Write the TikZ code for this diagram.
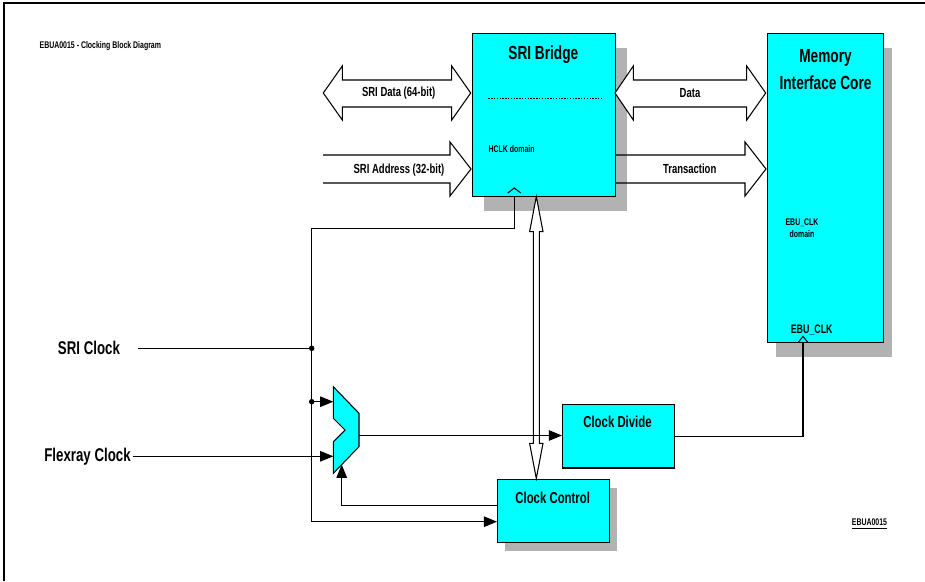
\documentclass[tikz,border=0pt]{standalone}
\usepackage{fontspec}
\setmainfont[FakeStretch=0.72]{Liberation Sans}
\usepackage{tikz}
\usetikzlibrary{arrows.meta, positioning, calc, shadows}
\definecolor{blkcyan}{RGB}{0,255,255}
\definecolor{blkshadow}{RGB}{178,178,178}
\tikzset{
  block/.style      = {rectangle, draw=black, line width=0.8pt, fill=blkcyan,
                       anchor=north west, inner sep=0pt},
  dshadow/.style 2 args = {drop shadow={shadow xshift=#1, shadow yshift=#2,
                       fill=blkshadow, opacity=1}},
  headtext/.style   = {font=\bfseries\fontsize{10.8}{15.6}\selectfont, align=center, inner sep=1pt},
  clktext/.style    = {font=\bfseries\fontsize{10.5}{12}\selectfont, inner sep=1pt},
  boxtext/.style    = {font=\bfseries\fontsize{9}{11}\selectfont, inner sep=1pt},
  buslab/.style     = {font=\bfseries\fontsize{7.5}{9}\selectfont, inner sep=1pt},
  pintext/.style    = {font=\bfseries\fontsize{7}{9}\selectfont, inner sep=1pt},
  smalltext/.style  = {font=\bfseries\fontsize{5.5}{7}\selectfont, align=center, inner sep=0pt},
  bus/.style        = {draw=black, line width=0.6pt, fill=white, line join=miter},
  wire/.style       = {draw=black, line width=0.6pt},
  sig/.style        = {wire, -{Triangle[length=7.5pt, width=6pt]}},
  muxbox/.style     = {draw=black, line width=0.6pt, fill=blkcyan},
  frame/.style      = {draw=black, line width=1.1pt},
  dot/.style        = {circle, fill=black, inner sep=0pt, minimum size=0.11cm},
}

\begin{document}
\begin{tikzpicture}[x=0.02cm, y=-0.02cm]
\useasboundingbox (0,0) rectangle (925,581);

% ---------- Frame and title ----------
\draw[frame] (4,581) -- (4,3) -- (925,3);
\node[smalltext, anchor=west] (title) at (39.3,45.7) {EBUA0015 - Clocking Block Diagram};
\node[smalltext] (figid) at (869.5,524.3) {\underline{EBUA0015}};

% ---------- Blocks ----------
\node[block, dshadow={0.22cm}{-0.28cm}, minimum width=2.86cm, minimum height=3.26cm] (bridge) at (472,33) {};
\node[block, dshadow={0.17cm}{-0.28cm}, minimum width=2.32cm, minimum height=6.18cm] (mic) at (767,33) {};
\node[block, minimum width=2.24cm, minimum height=1.28cm] (divide) at (562,403.5) {};
\node[block, dshadow={0.14cm}{-0.16cm}, minimum width=2.24cm, minimum height=1.26cm] (control) at (497,479) {};

% block texts
\node[headtext] (bridgetitle) at (543.3,55) {SRI Bridge};
\draw[wire, line width=0.8pt, dash pattern=on 0.8pt off 0.8pt] (488.3,98.3) -- (601.7,98.3);
\node[smalltext, anchor=west] (hclk) at (488.3,149.3) {HCLK domain};
\node[headtext] (mictitle) at (825.5,69.5) {Memory\\Interface Core};
\node[smalltext] (ebudom) at (802,228) {EBU\_CLK\\domain};
\node[pintext] (ebuclk) at (811.7,330) {EBU\_CLK};
\node[boxtext] (dividetitle) at (617.5,422.3) {Clock Divide};
\node[boxtext] (controltitle) at (552.7,498.3) {Clock Control};

% clock pins
\coordinate (brclk) at (514.3,196);
\coordinate (micclk) at (803,342);
\draw[wire] ($(brclk)+(-6.5,-3)$) -- ($(brclk)+(0,-8)$) -- ($(brclk)+(6.5,-3)$);
\draw[wire] ($(micclk)+(-4.5,0)$) -- ($(micclk)+(0,-5.5)$) -- ($(micclk)+(4.5,0)$);

% ---------- Buses ----------
\draw[bus] (323.3,93) -- (342.3,66) -- (342.3,80) -- (451.7,80) -- (451.7,66) -- (470.7,93)
  -- (451.7,120) -- (451.7,107) -- (342.3,107) -- (342.3,120) -- cycle;
\node[buslab] (sridata) at (398.7,93.3) {SRI Data (64-bit)};
\draw[bus, fill=none] (323,155) -- (450,155) -- (450,142) -- (471,169) -- (450,196) -- (450,183) -- (323,183);
\node[buslab] (sriaddr) at (399,170) {SRI Address (32-bit)};
\draw[bus] (615,93) -- (633.3,66) -- (633.3,80) -- (746.7,80) -- (746.7,66) -- (765.7,93)
  -- (746.7,120) -- (746.7,107) -- (633.3,107) -- (633.3,120) -- cycle;
\node[buslab] (data) at (690,93) {Data};
\draw[bus, fill=none] (615,155) -- (745,155) -- (745,142) -- (766,169) -- (745,196) -- (745,183) -- (615,183);
\node[buslab] (trans) at (689.7,168.5) {Transaction};
\draw[bus] (536.3,196.5) -- (543,231.7) -- (539.3,231.7) -- (539.3,443.3) -- (543,443.3) -- (536.3,478.5)
  -- (529.6,443.3) -- (533.3,443.3) -- (533.3,231.7) -- (529.6,231.7) -- cycle;

% ---------- Clock mux ----------
\draw[muxbox] (333.3,386.7) -- (359,413.3) -- (359,446.7) -- (333.3,473.3) -- (333.3,441.7)
  -- (345,430) -- (333.3,418.3) -- cycle;
\coordinate (muxa) at (333.3,401.7);
\coordinate (muxb) at (333.3,456.3);
\coordinate (muxo) at (359,435.5);
\coordinate (muxs) at (341.7,464.6);

% ---------- Clock inputs ----------
\node[clktext] (sriclk) at (89,348.3) {SRI Clock};
\node[clktext] (flexclk) at (87.5,456.3) {Flexray Clock};
\coordinate (sriclkin) at (138.3,348.3);
\coordinate (vtop) at (311.7,228.3);
\coordinate (vbot) at (311.7,521.7);
\coordinate (ctlsel) at (497,505.7);
\node[dot] (tapA) at (311.7,348.3) {};
\node[dot] (tapB) at (311.7,401.7) {};

% ---------- Wires ----------
\draw[wire] (sriclkin) -- (tapA.center);
\draw[sig] (brclk) |- (vtop) -- (vbot) -- (vbot -| control.west);
\draw[sig] (tapB.center) -- (muxa);
\draw[sig] (flexclk.east) -- (muxb);
\draw[sig] (muxo) -- (muxo -| divide.west);
\draw[sig] (ctlsel) -| (muxs);
\draw[wire] (divide.east) -| (micclk);

\end{tikzpicture}
\end{document}
